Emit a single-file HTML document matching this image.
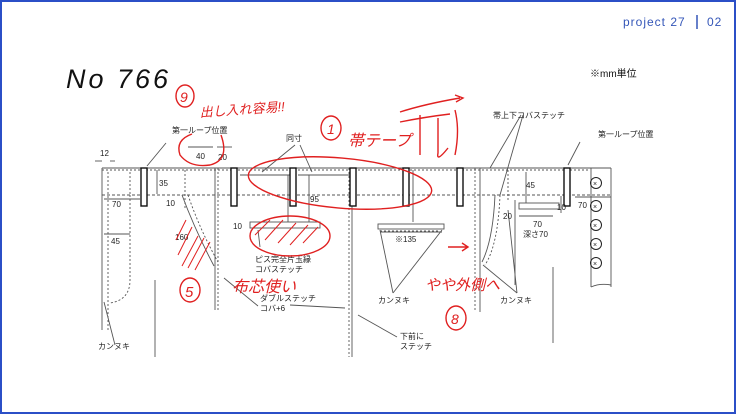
<!DOCTYPE html>
<html><head><meta charset="utf-8"><style>
body{margin:0;width:736px;height:414px;overflow:hidden;background:#fff}
.f{position:absolute;left:0;top:0;width:732px;height:410px;border:2px solid #2b4fc7;}
svg{position:absolute;left:0;top:0}
text{font-family:"Liberation Sans","Noto Sans CJK JP",sans-serif;}
</style></head><body><div class="f"></div>
<svg width="736" height="414" viewBox="0 0 736 414">
<text x="623" y="26" font-size="12" fill="#3456b8" letter-spacing="1">project 27</text>
<line x1="697" y1="15" x2="697" y2="29" stroke="#3456b8" stroke-width="1.5"/>
<text x="707" y="26" font-size="12" fill="#3456b8" letter-spacing="1">02</text>
<text x="66" y="88" font-size="27" font-style="italic" fill="#111" letter-spacing="3">No  766</text>
<text x="590" y="77" font-size="10" fill="#111">※mm単位</text>
<g stroke="#555" fill="none" stroke-width="0.9">
<line x1="102" y1="168" x2="611" y2="168"/>
<line x1="102" y1="170" x2="590" y2="170" stroke-dasharray="2 2"/>
<line x1="102" y1="195" x2="611" y2="195" stroke-dasharray="3 2"/>
<line x1="102" y1="168" x2="102" y2="330"/>
<line x1="108" y1="172" x2="108" y2="330" stroke-dasharray="2 2"/>
<line x1="130" y1="172" x2="130" y2="195" stroke-dasharray="2 2"/>
<path d="M130 195 L130 280 Q130 300 110 303" stroke-dasharray="2 2"/>
<line x1="185" y1="170" x2="185" y2="210" stroke-dasharray="2 2"/>
<line x1="215" y1="168" x2="215" y2="310"/>
<line x1="218" y1="168" x2="218" y2="310" stroke-dasharray="2 2"/>
<line x1="155" y1="280" x2="155" y2="357"/>
<line x1="349" y1="168" x2="349" y2="357" stroke-dasharray="2 2"/>
<line x1="352" y1="168" x2="352" y2="357"/>
<line x1="413" y1="170" x2="413" y2="222"/>
<line x1="475" y1="168" x2="475" y2="312" stroke-dasharray="2 2"/>
<line x1="480" y1="168" x2="480" y2="312"/>
<line x1="508" y1="170" x2="508" y2="200" stroke-dasharray="2 2"/>
<path d="M495 195 Q493 240 482 262" />
<path d="M500 195 Q498 245 485 265" stroke-dasharray="2 2"/>
<line x1="515" y1="200" x2="515" y2="285"/>
<line x1="553" y1="267" x2="553" y2="343"/>
<line x1="591" y1="168" x2="591" y2="287"/>
<line x1="611" y1="168" x2="611" y2="287"/>
<path d="M591 287 Q600 283 611 285"/>
<path d="M182 195 Q195 230 214 266"/>
<path d="M188 195 Q200 230 218 262" stroke-dasharray="2 2"/>
<rect x="378" y="224" width="66" height="5"/>
<line x1="380" y1="231" x2="440" y2="231" stroke-dasharray="2 2"/>
<rect x="250" y="222" width="70" height="6"/>
<rect x="519" y="203" width="40" height="6"/>
<line x1="166" y1="143" x2="147" y2="166"/>
<line x1="580" y1="142" x2="568" y2="165"/>
<line x1="295" y1="145" x2="262" y2="172"/>
<line x1="300" y1="145" x2="312" y2="172"/>
<line x1="521" y1="115" x2="490" y2="168"/>
<line x1="523" y1="115" x2="500" y2="195"/>
<line x1="115" y1="345" x2="104" y2="302"/>
<line x1="393" y1="293" x2="380" y2="230"/>
<line x1="393" y1="293" x2="442" y2="230"/>
<line x1="517" y1="293" x2="483" y2="265"/>
<line x1="517" y1="293" x2="508" y2="210"/>
<line x1="258" y1="306" x2="224" y2="278"/>
<line x1="290" y1="305" x2="345" y2="308"/>
<line x1="397" y1="337" x2="358" y2="315"/>
<line x1="260" y1="247" x2="258" y2="230"/>
<line x1="102" y1="161" x2="95" y2="161"/><line x1="110" y1="161" x2="115" y2="161"/>
<line x1="157" y1="170" x2="157" y2="194"/>
<line x1="104" y1="199" x2="140" y2="199"/>
<line x1="104" y1="234" x2="130" y2="234"/>
<line x1="188" y1="147" x2="213" y2="147"/>
<line x1="217" y1="147" x2="232" y2="147"/>
<line x1="240" y1="175" x2="290" y2="175"/>
<line x1="298" y1="175" x2="350" y2="175"/>
<line x1="288" y1="175" x2="288" y2="222"/>
<line x1="309" y1="175" x2="309" y2="222"/>
<line x1="380" y1="232" x2="442" y2="232"/>
<line x1="526" y1="172" x2="526" y2="203"/>
<line x1="519" y1="216" x2="553" y2="216"/>
<line x1="561" y1="196" x2="561" y2="213"/>
<line x1="575" y1="197" x2="611" y2="197"/>
</g>
<g fill="#fff" stroke="#111" stroke-width="1.4">
<rect x="141" y="168" width="6" height="38"/><rect x="231" y="168" width="6" height="38"/>
<rect x="290" y="168" width="6" height="38"/><rect x="350" y="168" width="6" height="38"/>
<rect x="403" y="168" width="6" height="38"/><rect x="457" y="168" width="6" height="38"/>
<rect x="564" y="168" width="6" height="38"/>
</g>
<g fill="none" stroke="#222" stroke-width="1">
<circle cx="596" cy="183" r="5.5"/><circle cx="596" cy="206" r="5.5"/><circle cx="596" cy="225" r="5.5"/>
<circle cx="596" cy="244" r="5.5"/><circle cx="596" cy="263" r="5.5"/>
</g>
<g font-size="7" fill="#222"><text x="593" y="186">×</text><text x="593" y="209">×</text><text x="593" y="228">×</text><text x="593" y="247">×</text><text x="593" y="266">×</text></g>
<g font-size="8" fill="#222">
<text x="172" y="133">第一ループ位置</text>
<text x="598" y="137">第一ループ位置</text>
<text x="493" y="118">帯上下コバステッチ</text>
<text x="286" y="141">同寸</text>
<text x="100" y="156">12</text>
<text x="159" y="186">35</text>
<text x="112" y="207">70</text>
<text x="111" y="244">45</text>
<text x="196" y="159">40</text>
<text x="218" y="160">20</text>
<text x="310" y="202">95</text>
<text x="166" y="206">10</text>
<text x="175" y="240">160</text>
<text x="233" y="229">10</text>
<text x="395" y="242">※135</text>
<text x="526" y="188">45</text>
<text x="503" y="219">20</text>
<text x="557" y="210">10</text>
<text x="578" y="208">70</text>
<text x="533" y="227">70</text>
<text x="523" y="237">深さ70</text>
<text x="255" y="262">ピス完全片玉縁</text>
<text x="255" y="272">コバステッチ</text>
<text x="260" y="301">ダブルステッチ</text>
<text x="260" y="311">コバ+6</text>
<text x="378" y="303">カンヌキ</text>
<text x="500" y="303">カンヌキ</text>
<text x="98" y="349">カンヌキ</text>
<text x="400" y="339">下前に</text>
<text x="400" y="349">ステッチ</text>
</g>
<g fill="#e02020" font-size="15" font-style="italic">
<text x="200" y="117" font-size="13" transform="rotate(-4 200 117)">出し入れ容易!!</text>
<text x="348" y="146" font-size="16">帯テープ</text>
<text x="232" y="292" font-size="16">布芯使い</text>
<text x="425" y="290" font-size="15">やや外側へ</text>
<text x="180" y="102" font-size="14">9</text>
<text x="327" y="134" font-size="14">1</text>
<text x="185" y="297" font-size="15">5</text>
<text x="451" y="324" font-size="14">8</text>
</g>
<g fill="none" stroke="#e02020" stroke-width="1.4">
<ellipse cx="185" cy="96" rx="9" ry="11"/>
<ellipse cx="331" cy="128" rx="10" ry="12"/>
<ellipse cx="190" cy="290" rx="10" ry="12"/>
<ellipse cx="456" cy="318" rx="10" ry="12"/>
<path d="M192 134 Q175 140 180 155 Q190 168 210 165 Q230 160 221 135"/>
<ellipse cx="340" cy="183" rx="92" ry="25" transform="rotate(5 340 183)"/>
<ellipse cx="290" cy="236" rx="40" ry="20"/>
<path d="M400 112 q25 -8 60 -14 M455 95 l8 3 -7 4"/>
<path d="M400 122 q25 -5 50 -8 M420 115 v40 M438 118 v35 q-2 10 10 -5 M455 110 q5 20 0 45"/>
<path d="M448 247 h20 M462 243 l6 4 -6 4"/>
<g stroke-width="1">
<path d="M176 240 l10 -20 M178 255 l14 -28 M182 266 l16 -30 M188 268 l16 -30 M195 270 l15 -28"/>
<path d="M255 235 l15 -15 M265 240 l18 -20 M278 243 l18 -20 M290 245 l18 -20 M303 243 l15 -16"/>
</g>
</g>
</svg></body></html>
